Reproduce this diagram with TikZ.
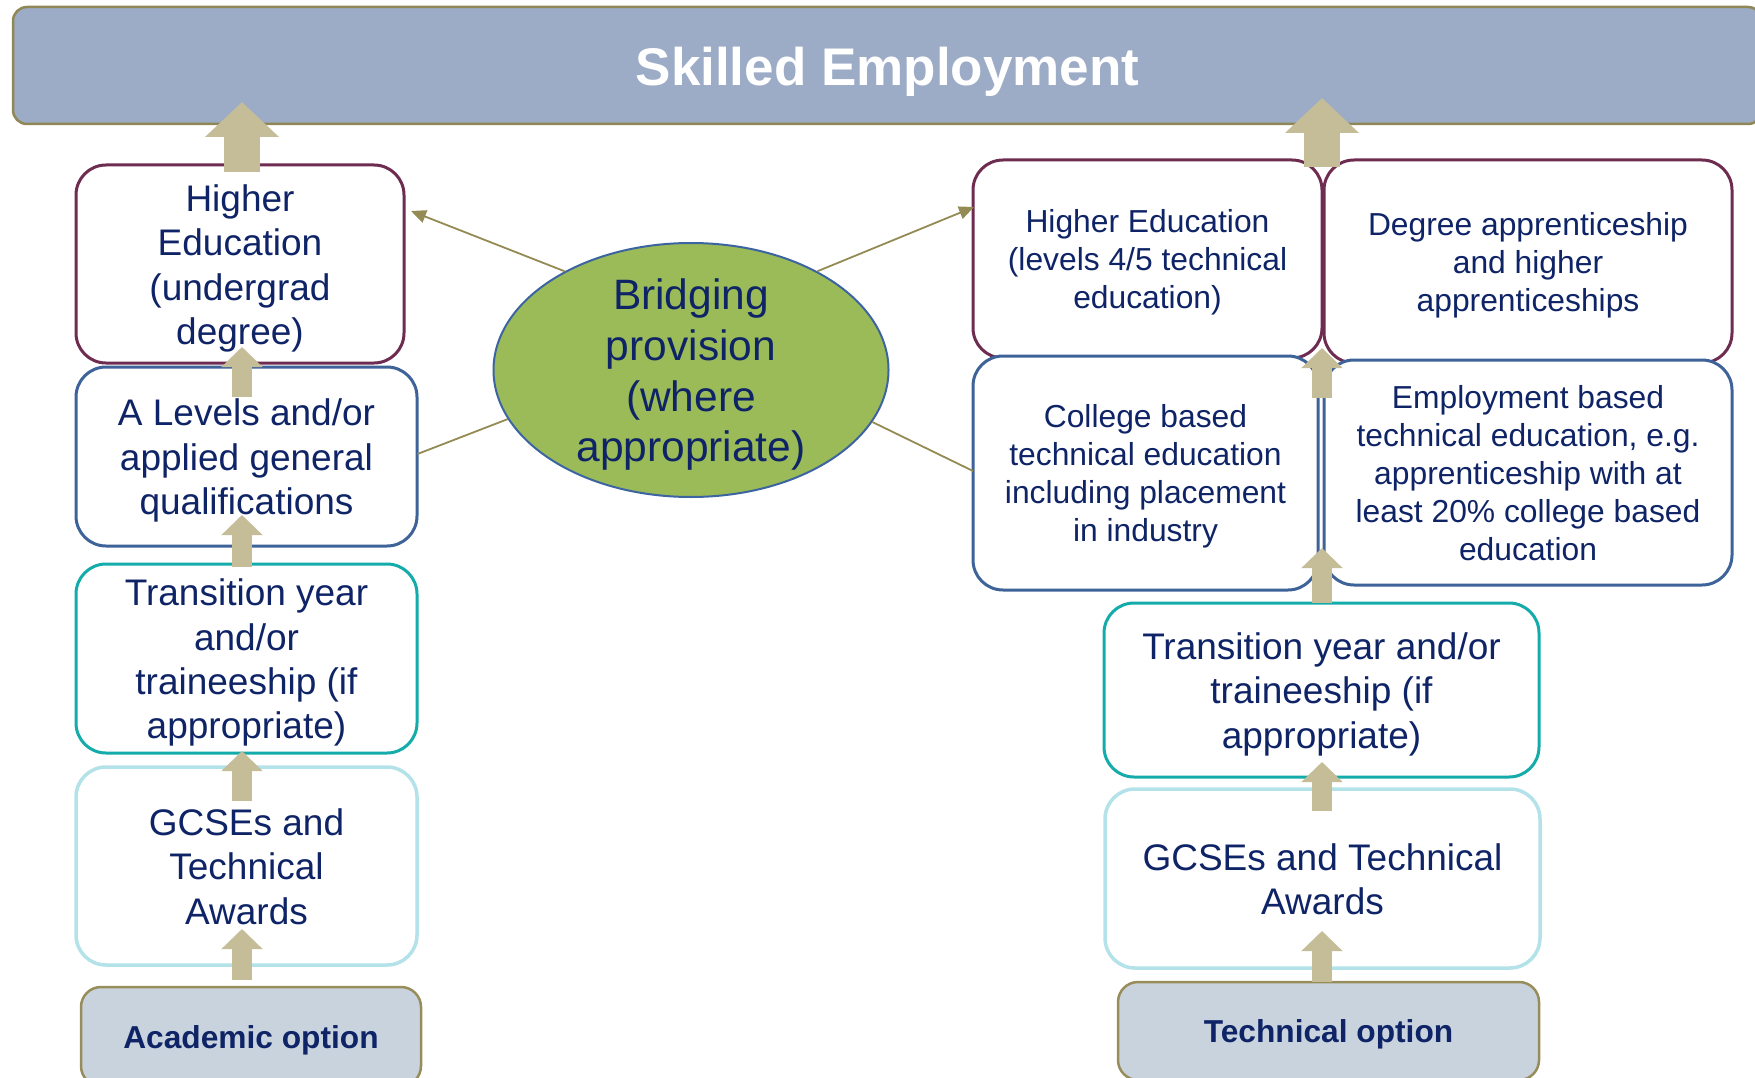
\documentclass[tikz,border=0pt]{standalone}
\usepackage{fontspec}
\setmainfont{Liberation Sans}
\usetikzlibrary{shapes.geometric,arrows.meta}
\definecolor{navy}{HTML}{0F2466}
\definecolor{bannerfill}{HTML}{9CABC6}
\definecolor{bannerline}{HTML}{8F8756}
\definecolor{maroonc}{HTML}{6E2D50}
\definecolor{bluec}{HTML}{3D6399}
\definecolor{tealc}{HTML}{14ABAB}
\definecolor{lightc}{HTML}{B3E2E9}
\definecolor{optfill}{HTML}{C9D3DE}
\definecolor{optline}{HTML}{978D5B}
\definecolor{tanc}{HTML}{C4BD97}
\definecolor{greenc}{HTML}{9BBB59}
\definecolor{ellline}{HTML}{3C64A0}
\definecolor{olivec}{HTML}{948A54}
\newcommand{\topstrutx}{\rule{0pt}{1.0em}}
\newcommand{\botstrutx}{\rule[-0.25em]{0pt}{0.25em}}
\begin{document}
\begin{tikzpicture}[x=1pt,y=-1pt,
  box/.style={draw, line width=3pt, rounded corners=30pt, fill=white, align=center,
    text=navy, inner sep=0pt},
  big/.style={font=\fontsize{37}{44.4}\selectfont},
  small/.style={font=\fontsize{31.8}{38}\selectfont},
  optbox/.style={draw=optline, fill=optfill, line width=2.5pt, rounded corners=20pt,
    align=center, text=navy, inner sep=0pt, font=\fontsize{31.7}{38}\selectfont\bfseries},
  blockarrow/.style={draw=tanc, line width=20pt, -{Triangle[width=40pt,length=20pt]}},
  toparrow/.style={draw=tanc, line width=36pt, -{Triangle[width=72pt,length=35pt]}},
  thinline/.style={draw=olivec, line width=1.8pt},
  thinarrow/.style={thinline, -{Triangle[width=13pt,length=15pt]}}
]
\useasboundingbox (0,0) rectangle (1755,1078);

% banner
\node[draw=bannerline, fill=bannerfill, line width=2.5pt, rounded corners=14pt,
  minimum width=1749pt, minimum height=117pt, inner sep=0pt, text=white,
  font=\fontsize{53}{60}\selectfont\bfseries] (emp) at (887.5,65.5)
  {\topstrutx Skilled Employment\botstrutx};

% left column
\node[box, big, draw=maroonc, minimum width=328pt, minimum height=198pt] (heL) at (240,264)
  {\topstrutx Higher\\Education\\(undergrad\\degree)\botstrutx};
\node[box, big, draw=bluec, minimum width=341pt, minimum height=179pt] (alev) at (246.5,456.5)
  {\topstrutx A Levels and/or\\applied general\\qualifications\botstrutx};
\node[box, big, draw=tealc, minimum width=341pt, minimum height=189pt] (trL) at (246.5,658.5)
  {\topstrutx Transition year\\and/or\\traineeship (if\\appropriate)\botstrutx};
\node[box, big, draw=lightc, line width=3.5pt, minimum width=341pt, minimum height=198pt] (gcL) at (246.5,866)
  {\topstrutx GCSEs and\\Technical\\Awards\botstrutx};
\node[optbox, minimum width=340pt, minimum height=99pt] (acad) at (251,1036.5)
  {\topstrutx Academic option\botstrutx};

% right column
\node[box, small, draw=maroonc, minimum width=349pt, minimum height=198pt] (heR) at (1147.5,259)
  {\topstrutx Higher Education\\(levels 4/5 technical\\education)\botstrutx};
\node[box, small, draw=maroonc, minimum width=408pt, minimum height=203pt] (deg) at (1528,261.5)
  {\topstrutx Degree apprenticeship\\and higher\\apprenticeships\botstrutx};
\node[box, small, draw=bluec, minimum width=345pt, minimum height=234pt] (coll) at (1145.5,473)
  {\topstrutx College based\\technical education\\including placement\\in industry\botstrutx};
\node[box, small, draw=bluec, minimum width=408pt, minimum height=225pt] (empb) at (1528,472.5)
  {\topstrutx Employment based\\technical education, e.g.\\apprenticeship with at\\least 20\% college based\\education\botstrutx};
\node[box, big, draw=tealc, minimum width=435pt, minimum height=174pt] (trR) at (1321.5,690)
  {\topstrutx Transition year and/or\\traineeship (if\\appropriate)\botstrutx};
\node[box, big, draw=lightc, line width=3.5pt, minimum width=435pt, minimum height=179pt] (gcR) at (1322.5,878.5)
  {\topstrutx GCSEs and Technical\\Awards\botstrutx};
\node[optbox, minimum width=421pt, minimum height=98pt] (tech) at (1328.5,1031)
  {\topstrutx Technical option\botstrutx};

% bridging ellipse
\node[ellipse, draw=ellline, fill=greenc, line width=2pt, minimum width=395pt, minimum height=254pt,
  inner sep=-40pt, align=center, text=navy, font=\fontsize{42.5}{50.7}\selectfont] (bridge) at (691,370)
  {\topstrutx Bridging\\provision\\(where\\appropriate)\botstrutx};

% named arrow ends
\coordinate (l0b) at (242,172); \coordinate (l0t) at (242,102);
\coordinate (l1b) at (242,397); \coordinate (l1t) at (242,347);
\coordinate (l2b) at (242,567); \coordinate (l2t) at (242,515);
\coordinate (l3b) at (242,801); \coordinate (l3t) at (242,751);
\coordinate (l4b) at (242,980); \coordinate (l4t) at (242,929);
\coordinate (r0b) at (1322,167); \coordinate (r0t) at (1322,98);
\coordinate (r1b) at (1322,398); \coordinate (r1t) at (1322,348);
\coordinate (r2b) at (1322,603); \coordinate (r2t) at (1322,548);
\coordinate (r3b) at (1322,811); \coordinate (r3t) at (1322,762);
\coordinate (r4b) at (1322,982); \coordinate (r4t) at (1322,931);

\draw[toparrow] (l0b) -- (l0t);
\draw[toparrow] (r0b) -- (r0t);
\foreach \n in {l1,l2,l3,l4,r1,r2,r3,r4} {\draw[blockarrow] (\n b) -- (\n t);}

% thin connectors
\coordinate (tipL) at (411,211);
\coordinate (tipR) at (974,207);
\coordinate (endL) at (417.5,454);
\coordinate (endR) at (973,471);
\draw[thinarrow] (bridge.142.8) -- (tipL);
\draw[thinarrow] (bridge.38.7) -- (tipR);
\draw[thinline] (bridge.195.9) -- (endL);
\draw[thinline] (bridge.344.1) -- (endR);
\end{tikzpicture}
\end{document}
